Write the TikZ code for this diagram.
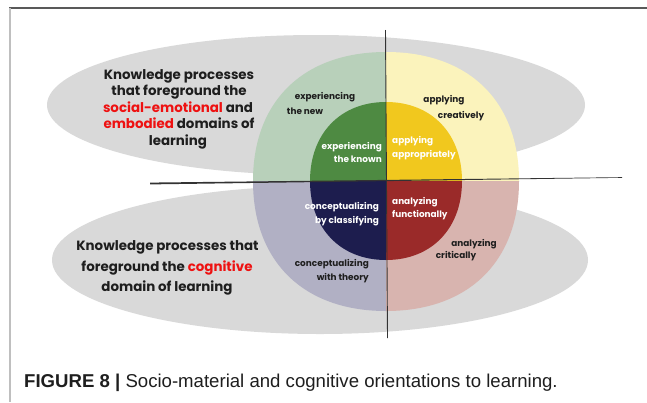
\documentclass[tikz,border=0pt]{standalone}
\usepackage{fontspec}
\setmainfont{Liberation Sans}
\newfontfamily\pop{Poppins}
\newfontfamily\capfont{Liberation Sans}
\definecolor{ellgray}{HTML}{D9D9D9}
\definecolor{lgreen}{HTML}{B8D0BA}
\definecolor{lyellow}{HTML}{FBF3BC}
\definecolor{dgreen}{HTML}{4E8A42}
\definecolor{dyellow}{HTML}{F1C81E}
\definecolor{lilac}{HTML}{B1B0C4}
\definecolor{lpink}{HTML}{D8B4AF}
\definecolor{navy}{HTML}{1D1D4E}
\definecolor{dred}{HTML}{9A2A29}
\definecolor{redtxt}{HTML}{EE1111}
\definecolor{txt}{HTML}{1E1E1E}
\begin{document}
\begin{tikzpicture}[x=1pt,y=-1pt,
  big/.style={font=\pop\bfseries\fontsize{13.4}{15}\selectfont, text=txt, inner sep=0pt, anchor=base},
  lab/.style={font=\pop\bfseries\fontsize{8.9}{10}\selectfont, inner sep=0pt},
  dk/.style={lab, text=txt},
  wt/.style={lab, text=white},
  capt/.style={font=\capfont\fontsize{18.6}{20}\selectfont, text=txt, inner sep=0pt, anchor=base west}]
\useasboundingbox (0,0) rectangle (647,402);
\fill[white] (0,0) rectangle (647,402);
% frame
\draw[line width=1.5pt, color=black!65] (9,8) -- (647,8);
\draw[line width=2pt, color=black!25] (9.5,8) -- (9.5,402);
% gray ellipses
\fill[ellgray] (316,105) ellipse [x radius=269pt, y radius=70pt];
\fill[ellgray] (320,260) ellipse [x radius=268pt, y radius=74pt];
% outer quadrants (k = 0.62)
\fill[lgreen] (386,181) -- (253,181) .. controls (253,101) and (303.5,52) .. (386,52) -- cycle;
\fill[lyellow] (386,181) -- (519,181) .. controls (519,101) and (468.5,52) .. (386,52) -- cycle;
\fill[lilac] (386,181) -- (253,181) .. controls (253,261.6) and (303.5,311) .. (386,311) -- cycle;
\fill[lpink] (386,181) -- (519,181) .. controls (519,261.6) and (468.5,311) .. (386,311) -- cycle;
% inner quadrants (k = 0.6)
\fill[dgreen] (386,181) -- (310,181) .. controls (310,133.6) and (340.4,102) .. (386,102) -- cycle;
\fill[dyellow] (386,181) -- (462,181) .. controls (462,133.6) and (431.6,102) .. (386,102) -- cycle;
\fill[navy] (386,181) -- (310,181) .. controls (310,228.4) and (340.4,260) .. (386,260) -- cycle;
\fill[dred] (386,181) -- (462,181) .. controls (462,228.4) and (431.6,260) .. (386,260) -- cycle;
% axes
\fill[black!80] (150,182.6) -- (622,177.2) -- (622,177.8) -- (150,184.4) -- cycle;
\coordinate (vtop) at (385.5,30);
\coordinate (vbot) at (387.5,338);
\draw[line width=0.9pt, black!80] (vtop) -- (vbot);
% big texts
\node[big] (t1) at (179,79) {Knowledge processes};
\node[big] (t2) at (179,95.5) {that foreground the};
\node[big] (t3) at (178,112) {\textcolor{redtxt}{social-emotional} and};
\node[big] (t4) at (179,128.5) {\textcolor{redtxt}{embodied} domains of};
\node[big] (t5) at (178,145) {learning};
\node[big] (b1) at (167.5,250) {Knowledge processes that};
\node[big] (b2) at (167,271) {foreground the \textcolor{redtxt}{cognitive}};
\node[big] (b3) at (167,291.5) {domain of learning};
% quadrant labels
\node[dk, anchor=base] (en1) at (325,99.5) {experiencing};
\node[dk, anchor=base] (en2) at (305,114.5) {the new};
\node[dk, anchor=base] (ac1) at (444,102.5) {applying};
\node[dk, anchor=base] (ac2) at (461,118.5) {creatively};
\node[wt, anchor=base east] (ek1) at (382,149.5) {experiencing};
\node[wt, anchor=base east] (ek2) at (382,162.5) {the known};
\node[wt, anchor=base west] (aa1) at (392,143.5) {applying};
\node[wt, anchor=base west] (aa2) at (392,157.5) {appropriately};
\node[wt, anchor=base east] (cc1) at (379,209.5) {conceptualizing};
\node[wt, anchor=base east] (cc2) at (379,223.5) {by classifying};
\node[wt, anchor=base west] (af1) at (392,204.5) {analyzing};
\node[wt, anchor=base west] (af2) at (392,217.5) {functionally};
\node[dk, anchor=base] (acr1) at (474,246.5) {analyzing};
\node[dk, anchor=base] (acr2) at (456,258.5) {critically};
\node[dk, anchor=base east] (ct1) at (369,266.5) {conceptualizing};
\node[dk, anchor=base east] (ct2) at (369,280.5) {with theory};
% caption
\node[capt] (cap) at (24,387) {\textbf{FIGURE 8 |} Socio-material and cognitive orientations to learning.};
\end{tikzpicture}
\end{document}
